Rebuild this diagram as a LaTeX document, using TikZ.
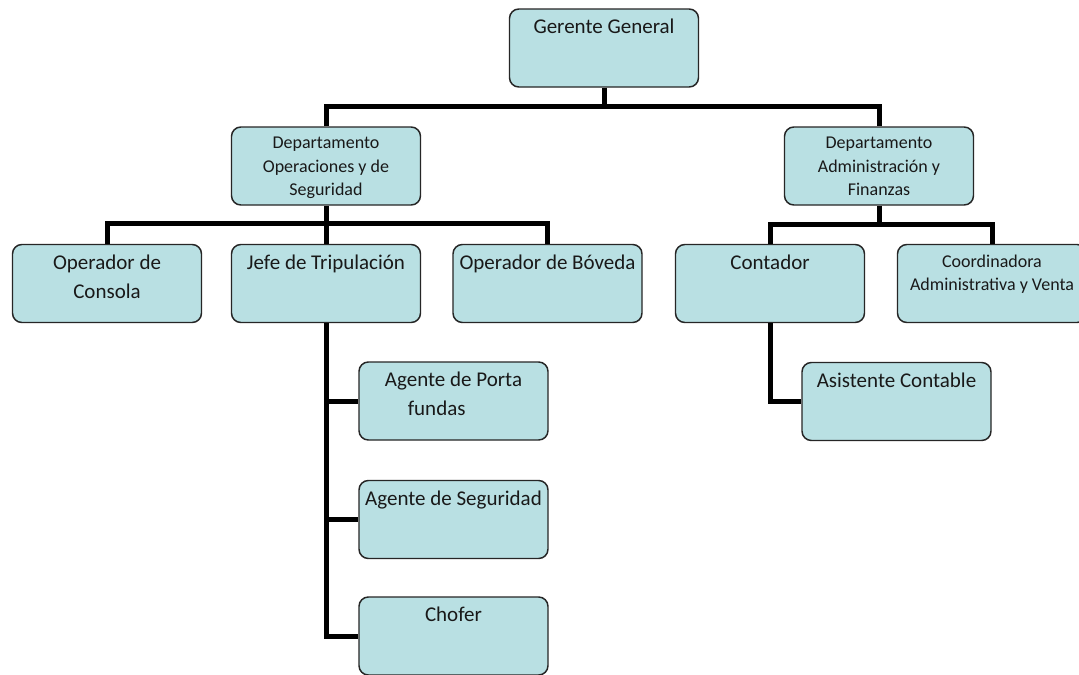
\documentclass[tikz,border=0pt]{standalone}
\usepackage{fontspec}
\setmainfont{Carlito}
\usepackage{tikz}
\usepackage{xcolor}
\definecolor{boxfill}{RGB}{185,224,227}
\tikzset{
  orgbox/.style={draw=black!85, line width=1.1pt, fill=boxfill, rounded corners=7pt,
    minimum width=141.75pt, minimum height=58.5pt, inner sep=0pt},
  boxtext/.style={anchor=north, inner sep=0pt, yshift=-8pt, align=center, text=black!90,
    font=\fontsize{15.75}{21.75}\selectfont},
  boxsmall/.style={boxtext, font=\fontsize{13.5}{17.5}\selectfont},
  orgline/.style={line width=3.75pt, black},
}

\begin{document}
\begin{tikzpicture}[x=0.75pt,y=-0.75pt]
\useasboundingbox (0,0) rectangle (1079,675);
\fill[white] (0,0) rectangle (1079,675);
\node[orgbox, label={[boxtext]north:Gerente General}] (gerente) at (604,48) {};
\node[orgbox, label={[boxsmall]north:Departamento\\Operaciones y de\\Seguridad}] (depops) at (326,166) {};
\node[orgbox, label={[boxsmall]north:Departamento\\Administración y\\Finanzas}] (depadm) at (879,166) {};
\node[orgbox, label={[boxtext]north:Operador de\\Consola}] (consola) at (107,283.5) {};
\node[orgbox, label={[boxtext]north:Jefe de Tripulación}] (jefe) at (326,283.5) {};
\node[orgbox, label={[boxtext]north:Operador de Bóveda}] (boveda) at (547.5,283.5) {};
\node[orgbox, label={[boxtext]north:Contador}] (contador) at (770,283.5) {};
\node[orgbox, label={[boxsmall]north:Coordinadora\\Administrativa y Venta}] (coord) at (992,283.5) {};
\node[orgbox, label={[boxtext]north:Agente de Porta\\fundas\hspace*{1.6em}}] (porta) at (453.5,401) {};
\node[orgbox, label={[boxtext]north:Agente de Seguridad}] (seguridad) at (453.5,519.5) {};
\node[orgbox, label={[boxtext]north:Chofer}] (chofer) at (453.5,636) {};
\node[orgbox, label={[boxtext]north:Asistente Contable}] (asistente) at (896.5,401.5) {};
\draw[orgline] (depops.north) -- ++(0,-20) coordinate (bus1) -| (depadm.north);
\draw[orgline] (gerente.south) -- (gerente.south |- bus1);
\draw[orgline] (consola.north) -- ++(0,-20) coordinate (bus2) -| (boveda.north);
\draw[orgline] (depops.south) -- (jefe.north);
\draw[orgline] (contador.north) -- ++(0,-19) coordinate (bus3) -| (coord.north);
\draw[orgline] (depadm.south) -- (depadm.south |- bus3);
\draw[orgline] (jefe.south) |- (chofer.west);
\draw[orgline] (jefe.south |- porta.west) -- (porta.west);
\draw[orgline] (jefe.south |- seguridad.west) -- (seguridad.west);
\draw[orgline] (contador.south) |- (asistente.west);
\end{tikzpicture}
\end{document}
